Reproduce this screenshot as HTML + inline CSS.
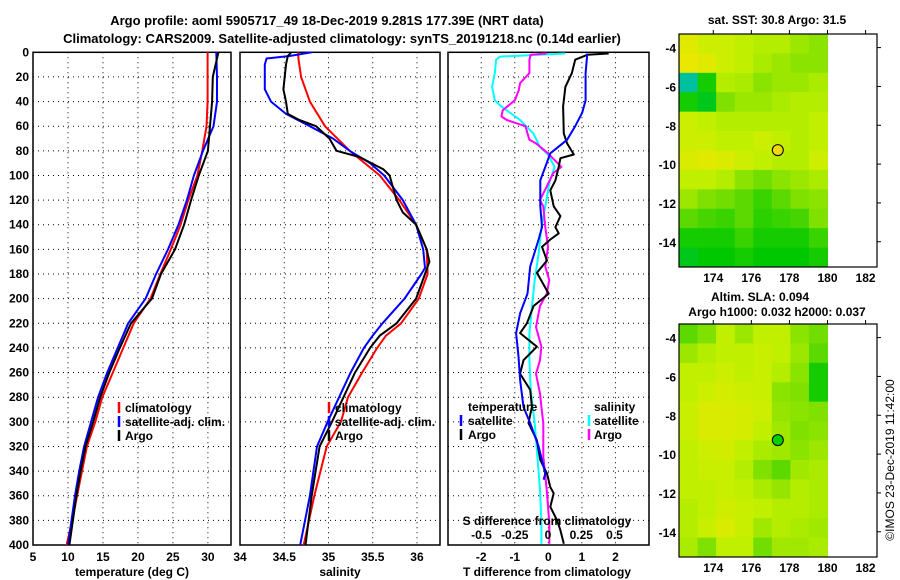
<!DOCTYPE html>
<html><head><meta charset="utf-8">
<style>
html,body{margin:0;padding:0;background:#fff;}
svg{display:block;font-family:"Liberation Sans",Arial,sans-serif;font-weight:bold;}
</style></head>
<body>
<svg id="chart" width="900" height="580" viewBox="0 0 900 580" xmlns="http://www.w3.org/2000/svg">
<text x="327" y="25" font-size="13" text-anchor="middle">Argo profile: aoml 5905717_49 18-Dec-2019 9.281S 177.39E (NRT data)</text>
<text x="342" y="43" font-size="13" text-anchor="middle">Climatology: CARS2009. Satellite-adjusted climatology: synTS_20191218.nc (0.14d earlier)</text>
<g id="layer"></g>
</svg>
<script>
// ---------- data ----------
const depthStd = [0,20,40,60,80,100,120,140,160,180,200,220,240,260,280,300,320,340,360,380,400];
const tempClim = [29.96,29.96,29.96,29.8,29.2,28.5,27.2,26.1,24.7,23.2,21.8,19.4,17.9,16.4,14.9,13.9,12.7,12.0,11.3,10.6,9.8];
const tempSat  = [31.2,31.3,31.3,30.8,29.3,28.0,27.0,25.8,24.3,22.6,21.1,18.6,17.1,15.6,14.3,13.3,12.3,11.6,11.0,10.5,10.0];
const tempArgo = [31.5,30.7,30.6,30.3,30.0,28.7,27.6,26.6,25.3,23.3,22.0,19.0,17.4,15.9,14.6,13.6,12.5,11.8,11.2,10.7,10.2];

const salClimDepth = [0,5,20,40,60,80,100,120,140,160,180,200,220,230,240,260,280,300,320,360,400];
const salClim      = [34.66,34.66,34.69,34.79,34.96,35.24,35.58,35.80,35.99,36.11,36.12,36.02,35.82,35.65,35.55,35.38,35.22,35.14,34.98,34.84,34.72];
const salSatDepth  = [0,3,5,10,30,40,50,60,70,80,90,100,120,140,160,175,180,200,220,230,240,260,280,300,320,360,400];
const salSat       = [34.81,34.56,34.30,34.28,34.28,34.35,34.52,34.79,35.05,35.24,35.47,35.63,35.84,35.99,36.07,36.09,36.05,35.86,35.61,35.5,35.4,35.25,35.12,34.99,34.87,34.79,34.68];
const salArgoDepth = [0,3,10,30,40,50,55,60,70,80,85,95,100,120,130,140,160,170,180,200,220,230,240,260,280,300,320,360,400];
const salArgo      = [34.58,34.54,34.52,34.49,34.52,34.54,34.67,34.86,35.01,35.09,35.35,35.62,35.69,35.77,35.84,35.99,36.11,36.14,36.09,35.99,35.77,35.58,35.47,35.30,35.17,35.04,34.90,34.81,34.74];

const tdArgoDepth = [1,2,6,17,28,44,66,74,83,86,93,104,112,125,133,142,147,152,158,169,179,196,206,220,228,239,250,261,274,288,301,315,331,342,353,358,369,380,388,399];
const tdArgo      = [1.80,1.16,0.80,0.70,0.51,0.44,0.46,0.56,0.76,0.36,0.31,0.21,0.06,0.16,0.36,0.21,0.31,0.06,-0.19,-0.04,-0.34,0.01,-0.44,-0.64,-0.84,-0.34,-0.74,-0.84,-0.54,-0.49,-0.59,-0.34,-0.24,-0.04,0.06,0.16,0.06,0.26,0.36,0.46];
const tdSatDepth  = [1,17,39,49,60,71,82,93,104,125,142,152,174,196,212,228,247,266,288,301,320,342,347];
const tdSat       = [1.16,1.11,1.11,1.01,0.80,0.56,0.06,-0.09,-0.24,-0.24,-0.19,-0.29,-0.54,-0.62,-0.84,-0.96,-0.89,-0.84,-0.74,-0.54,-0.29,-0.09,-0.14];
const sdSatDepth  = [1,3.5,6,17,28,39,44,55,66,77,83,93,106,125,142,163,185,206,228,250,274,301,328,355,382,399];
const sdSat       = [0.13,-0.36,-0.39,-0.40,-0.42,-0.40,-0.35,-0.21,-0.11,-0.06,0.0,0.05,0.01,-0.02,-0.05,-0.07,-0.10,-0.12,-0.14,-0.14,-0.13,-0.10,-0.08,-0.06,-0.05,-0.05];
const sdArgoDepth = [1,2,6,17,25,31,39,47,52,55,60,71,74,82,93,98,109,120,125,142,158,174,185,196,206,223,239,250,261,277,288,301,328,355,382,399];
const sdArgo      = [-0.01,-0.13,-0.14,-0.14,-0.21,-0.22,-0.25,-0.34,-0.35,-0.31,-0.17,-0.14,-0.09,0.0,0.10,0.04,-0.01,-0.06,-0.035,-0.02,0.0,-0.02,0.01,-0.01,-0.06,-0.09,-0.05,-0.06,-0.09,-0.06,-0.05,-0.035,-0.035,-0.01,0.01,0.01];

const depthTicks = [0,20,40,60,80,100,120,140,160,180,200,220,240,260,280,300,320,340,360,380,400];
const tempTicks = [5,10,15,20,25,30];
const salTicks = [34,34.5,35,35.5,36];
const salTickLabels = ["34","34.5","35","35.5","36"];
const tdTicks = [-2,-1,0,1,2];
const sdTicks = [-0.5,-0.25,0,0.25,0.5];
const sdTickLabels = ["-0.5","-0.25","0","0.25","0.5"];

const sstGrid = [
[0.80,0.75,0.75,0.72,0.70,0.70,0.65,0.62],
[0.82,0.80,0.75,0.72,0.68,0.65,0.62,0.62],
[0.30,0.45,0.70,0.68,0.62,0.65,0.65,0.68],
[0.45,0.40,0.60,0.65,0.65,0.68,0.70,0.70],
[0.75,0.72,0.70,0.70,0.70,0.70,0.70,0.72],
[0.75,0.75,0.72,0.72,0.75,0.72,0.70,0.72],
[0.78,0.80,0.78,0.75,0.72,0.70,0.70,0.75],
[0.72,0.72,0.70,0.62,0.58,0.62,0.65,0.68],
[0.65,0.60,0.58,0.55,0.50,0.55,0.60,0.62],
[0.55,0.52,0.50,0.55,0.48,0.50,0.52,0.60],
[0.45,0.45,0.45,0.50,0.45,0.45,0.45,0.50],
[0.40,0.42,0.42,0.45,0.42,0.42,0.42,0.45]];
const slaGrid = [
[0.55,0.60,0.72,0.65,0.72,0.72,0.62,0.58],
[0.65,0.70,0.72,0.72,0.74,0.72,0.65,0.55],
[0.72,0.72,0.75,0.72,0.74,0.70,0.62,0.45],
[0.72,0.75,0.77,0.75,0.74,0.62,0.60,0.45],
[0.74,0.78,0.78,0.77,0.75,0.64,0.62,0.60],
[0.74,0.78,0.78,0.77,0.72,0.66,0.60,0.62],
[0.72,0.75,0.76,0.72,0.68,0.66,0.62,0.65],
[0.72,0.74,0.74,0.70,0.60,0.55,0.66,0.68],
[0.72,0.72,0.74,0.72,0.68,0.64,0.70,0.68],
[0.70,0.72,0.76,0.74,0.72,0.70,0.70,0.68],
[0.70,0.74,0.78,0.74,0.66,0.70,0.68,0.66],
[0.68,0.60,0.72,0.72,0.58,0.66,0.66,0.68]];
const lonTicks = [174,176,178,180,182];
const latTicks = [-4,-6,-8,-10,-12,-14];
const argoLon = 177.39, argoLat = -9.281;

// ---------- helpers ----------
const NS = "http://www.w3.org/2000/svg";
const layer = document.getElementById('layer');
function mk(tag, attrs, parent){ const e=document.createElementNS(NS,tag); for(const k in attrs) e.setAttribute(k,attrs[k]); (parent||layer).appendChild(e); return e; }
const Y0=52.3, Y1=545;
const yD = d => Y0 + (Y1-Y0)*d/400;

function panel(name,x0,x1,xmin,xmax,ticks,labels,showY){
  const g = mk('g',{});
  
  
  const sx = v => x0 + (x1-x0)*(v-xmin)/(xmax-xmin);
  depthTicks.forEach((d,i)=>{
    if(i>0 && i<depthTicks.length-1){ const l=mk('line',{x1:x0,x2:x1,y1:yD(d),y2:yD(d),stroke:'#000','stroke-width':1,'stroke-dasharray':'1,4'},g);   }
    if(showY){ const t=mk('text',{x:x0-4,y:yD(d)+4,'font-size':12,'text-anchor':'end'},g); t.textContent=d;
        }
  });
  ticks.forEach((v,i)=>{
    const X=sx(v);
    if(X>x0+1 && X<x1-1){ const l=mk('line',{x1:X,x2:X,y1:Y0,y2:Y1,stroke:'#000','stroke-width':1,'stroke-dasharray':'1,4'},g);   }
    const t=mk('text',{x:X,y:561,'font-size':12,'text-anchor':'middle'},g); t.textContent=labels[i];
     
  });
  const r=mk('rect',{x:x0,y:Y0,width:x1-x0,height:Y1-Y0,fill:'none',stroke:'#000','stroke-width':1.5},g);
   
  return {g,sx};
}
function line(p,vals,depths,color,name,w){
  const pts = vals.map((v,i)=>p.sx(v).toFixed(1)+','+yD(depths[i]).toFixed(1)).join(' ');
  const pl = mk('polyline',{points:pts,fill:'none',stroke:color,'stroke-width':w||2,'stroke-linejoin':'round'},p.g);
  
  
}
function txt(x,y,s,name,size,anchor,parent){
  const t=mk('text',{x:x,y:y,'font-size':size||12,'text-anchor':anchor||'start'},parent); t.textContent=s;
  
  
  return t;
}
function legMark(x,y,color,name){
  const l=mk('line',{x1:x,x2:x,y1:y-10,y2:y+1,stroke:color,'stroke-width':2.5});
  
  
}

// ---------- panel 1 ----------
const p1 = panel('temperature-panel',33,231,5,33.3,tempTicks,tempTicks.map(String),true);
line(p1,tempClim,depthStd,'#f00','temp-climatology-line');
line(p1,tempSat,depthStd,'#00f','temp-satellite-line');
line(p1,tempArgo,depthStd,'#000','temp-argo-line');
txt(132,576,'temperature (deg C)','temperature-axis-title',12,'middle');
legMark(119,412,'#f00','legend-climatology-mark'); txt(125,412,'climatology','legend-climatology');
legMark(119,426,'#00f','legend-satellite-mark'); txt(125,426,'satellite-adj. clim.','legend-satellite');
legMark(119,440,'#000','legend-argo-mark'); txt(125,440,'Argo','legend-argo');

// ---------- panel 2 ----------
const p2 = panel('salinity-panel',240,440,34,36.26,salTicks,salTickLabels,false);
line(p2,salClim,salClimDepth,'#f00','sal-climatology-line');
line(p2,salSat,salSatDepth,'#00f','sal-satellite-line');
line(p2,salArgo,salArgoDepth,'#000','sal-argo-line');
txt(340,576,'salinity','salinity-axis-title',12,'middle');
legMark(329,412,'#f00','legend2-climatology-mark'); txt(335,412,'climatology','legend2-climatology');
legMark(329,426,'#00f','legend2-satellite-mark'); txt(335,426,'satellite-adj. clim.','legend2-satellite');
legMark(329,440,'#000','legend2-argo-mark'); txt(335,440,'Argo','legend2-argo');

// ---------- panel 3 ----------
const p3 = panel('difference-panel',448,649,-2.99,3.0,tdTicks,tdTicks.map(String),false);
const p3s = {g:p3.g, sx: v => 548 + 133*v};
line(p3s,sdSat,sdSatDepth,'#0ff','sal-diff-satellite-line');
line(p3s,sdArgo,sdArgoDepth,'#f0f','sal-diff-argo-line');
line(p3,tdArgo,tdArgoDepth,'#000','temp-diff-argo-line');
line(p3,tdSat,tdSatDepth,'#00f','temp-diff-satellite-line');
txt(468,411,'temperature','legend3-temperature-heading');
legMark(461,425,'#00f','legend3-tsat-mark'); txt(468,425,'satellite','legend3-tsat');
legMark(461,439,'#000','legend3-targo-mark'); txt(468,439,'Argo','legend3-targo');
txt(594,411,'salinity','legend3-salinity-heading');
legMark(589,425,'#0ff','legend3-ssat-mark'); txt(594,425,'satellite','legend3-ssat');
legMark(589,439,'#f0f','legend3-sargo-mark'); txt(594,439,'Argo','legend3-sargo');
txt(547,525,'S difference from climatology','s-diff-axis-title',12,'middle');
sdTicks.forEach((v,i)=>{ txt(548+133*v,539,sdTickLabels[i],'s-diff-tick-label',12,'middle'); });
txt(547,576,'T difference from climatology','t-diff-axis-title',12,'middle');

// ---------- maps ----------
const stops=[[0,[0,144,255]],[0.3,[0,192,160]],[0.42,[0,200,0]],[0.6,[128,224,0]],[0.72,[192,240,0]],[0.82,[232,232,0]],[1,[240,160,0]]];
function cmap(v){ for(let i=1;i<stops.length;i++){ if(v<=stops[i][0]){ const a=stops[i-1],b=stops[i],t=(v-a[0])/(b[0]-a[0]);
  return 'rgb('+a[1].map((c,k)=>Math.round(c+(b[1][k]-c)*t)).join(',')+')'; } } return 'rgb(240,160,0)'; }

function map(name,top,grid,dotColor,titles){
  const g = mk('g',{});
  
  
  const bx0=679,bx1=877,by0=top,by1=top+233;
  const lonMin=172.2, lonMax=182.6, latMax=-3.3, latMin=-15.3;
  const sx = lon => bx0+(bx1-bx0)*(lon-lonMin)/(lonMax-lonMin);
  const sy = lat => by0+(by1-by0)*(latMax-lat)/(latMax-latMin);
  const nR=grid.length,nC=grid[0].length;
  for(let r=0;r<nR;r++)for(let c=0;c<nC;c++){
    const lo0=lonMin+(180-lonMin)*c/nC, lo1=lonMin+(180-lonMin)*(c+1)/nC;
    const la0=latMax-(latMax-latMin)*r/nR, la1=latMax-(latMax-latMin)*(r+1)/nR;
    const cell=mk('rect',{x:sx(lo0),y:sy(la0),width:sx(lo1)-sx(lo0)+0.5,height:sy(la1)-sy(la0)+0.5,fill:cmap(grid[r][c])},g);
    
    
  }
  const fr=mk('rect',{x:bx0,y:by0,width:bx1-bx0,height:by1-by0,fill:'none',stroke:'#000','stroke-width':1.2},g);
   
  lonTicks.forEach(l=>{ const X=sx(l);
    mk('line',{x1:X,x2:X,y1:by0,y2:by0-4,stroke:'#000'},g);
    const t=txt(X,by1+15,String(l),'lon-tick-label',12,'middle',g); });
  latTicks.forEach(l=>{ const Y=sy(l);
    mk('line',{x1:bx1,x2:bx1+4,y1:Y,y2:Y,stroke:'#000'},g);
    txt(bx0-3,Y+5,String(l),'lat-tick-label',12,'end',g); });
  const ci=mk('circle',{cx:sx(argoLon),cy:sy(argoLat),r:5.5,fill:dotColor,stroke:'#000','stroke-width':1},g);
   
  titles.forEach(t=>txt(t[0],t[1],t[2],'map-title',12,'middle',g));
}
map('sst-map',34,sstGrid,'#f0d800',[[777,24,'sat. SST: 30.8 Argo: 31.5']]);
map('sla-map',324,slaGrid,'#00d000',[[760,301,'Altim. SLA: 0.094'],[777,316,'Argo h1000: 0.032 h2000: 0.037']]);

const cp=txt(0,0,'©IMOS 23-Dec-2019 11:42:00','copyright-stamp',12,'middle');
cp.setAttribute('font-weight','normal');
cp.setAttribute('transform','translate(894,460) rotate(-90)');
</script>
</body></html>
